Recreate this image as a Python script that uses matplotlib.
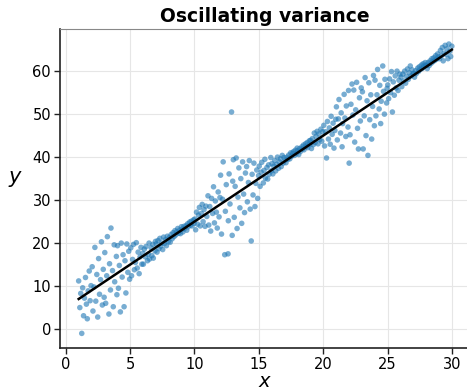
import matplotlib
matplotlib.use("Agg")
import matplotlib.pyplot as plt
import numpy as np

# scatter points, one block per unit of x
x_01 = [1.00, 1.09, 1.16, 1.24, 1.31, 1.38, 1.45, 1.53, 1.60, 1.67, 1.74, 1.82, 1.89, 1.96]
y_01 = [11.2, 5.0, 8.3, -1.0, 9.6, 3.1, 7.2, 12.0, 5.8, 2.4, 8.9, 13.5, 6.6, 10.1]
x_02 = [2.05, 2.11, 2.19, 2.26, 2.33, 2.41, 2.48, 2.55, 2.62, 2.70, 2.77, 2.84, 2.91, 2.98]
y_02 = [14.5, 4.2, 9.8, 19.0, 6.5, 12.7, 2.8, 16.4, 8.1, 11.5, 20.3, 5.6, 13.9, 7.4]
x_03 = [3.03, 3.10, 3.18, 3.23, 3.35, 3.40, 3.47, 3.51, 3.63, 3.69, 3.76, 3.80, 3.93, 3.97]
y_03 = [17.8, 6.0, 12.4, 21.5, 3.5, 15.2, 9.1, 23.5, 13.6, 5.2, 19.6, 11.0, 16.9, 8.0]
x_04 = [4.02, 4.09, 4.16, 4.24, 4.31, 4.38, 4.45, 4.53, 4.60, 4.67, 4.74, 4.82, 4.89, 4.96]
y_04 = [19.4, 9.5, 14.8, 4.0, 20.0, 12.1, 17.3, 5.2, 15.9, 8.4, 19.8, 13.2, 18.1, 11.6]
x_05 = [5.05, 5.11, 5.19, 5.26, 5.33, 5.41, 5.48, 5.55, 5.62, 5.70, 5.77, 5.84, 5.91, 5.98]
y_05 = [18.9, 12.4, 16.2, 19.7, 13.8, 15.5, 20.1, 14.2, 17.9, 12.9, 16.8, 19.0, 15.1, 17.6]
x_06 = [6.03, 6.10, 6.18, 6.23, 6.35, 6.40, 6.47, 6.51, 6.63, 6.69, 6.76, 6.80, 6.93, 6.97]
y_06 = [15.1, 18.6, 16.8, 19.2, 15.9, 17.4, 20.0, 16.3, 18.9, 17.1, 19.7, 16.5, 18.2, 20.4]
x_07 = [7.02, 7.09, 7.16, 7.24, 7.31, 7.38, 7.45, 7.53, 7.60, 7.67, 7.74, 7.82, 7.89, 7.96]
y_07 = [19.8, 17.9, 20.6, 18.7, 21.1, 19.3, 20.0, 18.5, 21.4, 19.9, 20.8, 19.4, 21.6, 20.3]
x_08 = [8.05, 8.11, 8.19, 8.26, 8.33, 8.41, 8.48, 8.55, 8.62, 8.70, 8.77, 8.84, 8.91, 8.98]
y_08 = [21.3, 20.2, 22.0, 21.0, 22.4, 21.5, 22.9, 21.9, 22.6, 23.4, 22.3, 23.0, 22.2, 23.8]
x_09 = [9.03, 9.10, 9.18, 9.23, 9.35, 9.40, 9.47, 9.51, 9.63, 9.69, 9.76, 9.80, 9.93, 9.97]
y_09 = [23.2, 22.6, 23.9, 23.4, 24.1, 23.0, 24.5, 23.8, 24.9, 24.2, 25.1, 24.0, 25.4, 24.6]
x_10 = [10.02, 10.09, 10.16, 10.24, 10.31, 10.38, 10.45, 10.53, 10.60, 10.67, 10.74, 10.82, 10.89, 10.96]
y_10 = [25.6, 23.1, 27.2, 24.4, 26.5, 28.3, 24.0, 26.9, 29.0, 25.0, 27.8, 23.9, 28.6, 26.2]
x_11 = [11.05, 11.11, 11.19, 11.26, 11.33, 11.41, 11.48, 11.55, 11.62, 11.70, 11.77, 11.84, 11.91, 11.98]
y_11 = [31.0, 24.2, 28.5, 22.8, 30.4, 26.9, 33.1, 24.7, 29.8, 27.2, 23.5, 31.9, 26.1, 30.6]
x_12 = [12.03, 12.10, 12.18, 12.23, 12.35, 12.40, 12.47, 12.61, 12.63, 12.69, 12.76, 12.88, 12.93, 12.97]
y_12 = [35.8, 22.1, 30.2, 38.9, 17.3, 27.4, 33.6, 17.5, 25.2, 36.1, 29.1, 50.5, 21.8, 34.4]
x_13 = [13.02, 13.09, 13.16, 13.24, 13.31, 13.38, 13.45, 13.53, 13.60, 13.67, 13.74, 13.82, 13.89, 13.96]
y_13 = [39.4, 26.0, 33.2, 39.8, 23.4, 30.7, 37.5, 28.2, 35.0, 24.6, 38.9, 31.4, 27.1, 36.3]
x_14 = [14.05, 14.11, 14.19, 14.26, 14.33, 14.41, 14.48, 14.55, 14.62, 14.70, 14.77, 14.84, 14.91, 14.98]
y_14 = [37.8, 29.6, 34.1, 39.2, 27.9, 20.5, 36.0, 31.2, 38.6, 28.5, 33.9, 37.0, 30.4, 35.7]
x_15 = [15.03, 15.10, 15.18, 15.23, 15.35, 15.40, 15.47, 15.51, 15.63, 15.69, 15.76, 15.80, 15.93, 15.97]
y_15 = [37.9, 33.2, 36.5, 38.8, 34.0, 36.9, 39.5, 35.1, 37.6, 34.9, 38.2, 36.0, 39.9, 36.8]
x_16 = [16.02, 16.09, 16.16, 16.24, 16.31, 16.38, 16.45, 16.53, 16.60, 16.67, 16.74, 16.82, 16.89, 16.96]
y_16 = [38.5, 36.1, 37.9, 39.2, 36.8, 38.3, 40.0, 37.4, 38.9, 39.6, 37.8, 40.4, 38.6, 39.9]
x_17 = [17.05, 17.11, 17.19, 17.26, 17.33, 17.41, 17.48, 17.55, 17.62, 17.70, 17.77, 17.84, 17.91, 17.98]
y_17 = [39.3, 38.7, 40.0, 39.5, 40.5, 39.6, 41.0, 40.2, 40.9, 41.3, 40.4, 41.6, 40.8, 42.1]
x_18 = [18.03, 18.10, 18.18, 18.23, 18.35, 18.40, 18.47, 18.51, 18.63, 18.69, 18.76, 18.80, 18.93, 18.97]
y_18 = [41.5, 40.6, 42.0, 41.3, 42.4, 41.9, 42.8, 41.7, 43.1, 42.5, 43.4, 42.2, 43.8, 43.0]
x_19 = [19.02, 19.09, 19.16, 19.24, 19.31, 19.38, 19.45, 19.53, 19.60, 19.67, 19.74, 19.82, 19.89, 19.96]
y_19 = [43.9, 42.0, 44.3, 42.9, 45.6, 43.4, 44.8, 46.0, 43.1, 45.4, 44.1, 46.5, 43.7, 45.9]
x_20 = [20.05, 20.11, 20.19, 20.26, 20.33, 20.41, 20.48, 20.55, 20.62, 20.70, 20.77, 20.84, 20.91, 20.98]
y_20 = [47.4, 42.6, 45.9, 39.8, 48.3, 44.2, 46.8, 43.0, 49.5, 45.3, 47.9, 42.1, 46.2, 48.8]
x_21 = [21.03, 21.10, 21.18, 21.23, 21.35, 21.40, 21.47, 21.51, 21.63, 21.69, 21.76, 21.80, 21.93, 21.97]
y_21 = [51.7, 44.0, 48.9, 53.4, 45.6, 50.3, 42.4, 47.8, 54.6, 49.1, 44.8, 51.9, 47.0, 55.5]
x_22 = [22.02, 22.09, 22.16, 22.24, 22.31, 22.38, 22.45, 22.53, 22.60, 22.67, 22.74, 22.82, 22.89, 22.96]
y_22 = [38.6, 45.2, 52.3, 57.0, 49.8, 55.6, 43.5, 51.0, 57.4, 46.7, 41.9, 53.8, 48.4, 56.1]
x_23 = [23.05, 23.11, 23.19, 23.26, 23.33, 23.41, 23.48, 23.55, 23.62, 23.70, 23.77, 23.84, 23.91, 23.98]
y_23 = [55.2, 41.9, 49.6, 58.5, 45.0, 53.1, 40.4, 57.3, 48.7, 54.5, 44.2, 51.8, 59.0, 47.3]
x_24 = [24.03, 24.10, 24.18, 24.23, 24.35, 24.40, 24.47, 24.51, 24.63, 24.69, 24.76, 24.80, 24.93, 24.97]
y_24 = [57.9, 49.6, 54.5, 60.4, 51.2, 56.7, 47.8, 53.0, 61.2, 55.3, 50.0, 58.1, 52.6, 56.0]
x_25 = [25.02, 25.09, 25.16, 25.24, 25.31, 25.38, 25.45, 25.53, 25.60, 25.67, 25.74, 25.82, 25.89, 25.96]
y_25 = [56.8, 53.6, 58.2, 55.0, 59.9, 50.5, 57.5, 54.4, 58.9, 56.1, 60.0, 55.5, 57.9, 59.3]
x_26 = [26.05, 26.11, 26.19, 26.26, 26.33, 26.41, 26.48, 26.55, 26.62, 26.70, 26.77, 26.84, 26.91, 26.98]
y_26 = [58.6, 56.4, 59.3, 57.7, 60.0, 57.2, 58.8, 60.5, 58.1, 59.6, 61.2, 58.9, 60.3, 59.4]
x_27 = [27.03, 27.10, 27.18, 27.23, 27.35, 27.40, 27.47, 27.51, 27.63, 27.69, 27.76, 27.80, 27.93, 27.97]
y_27 = [59.5, 58.6, 60.1, 59.4, 60.7, 59.9, 61.0, 60.3, 61.4, 60.6, 61.7, 61.1, 62.0, 61.3]
x_28 = [28.02, 28.09, 28.16, 28.24, 28.31, 28.38, 28.45, 28.53, 28.60, 28.67, 28.74, 28.82, 28.89, 28.96]
y_28 = [61.4, 60.6, 62.0, 61.3, 62.4, 61.8, 62.9, 62.2, 63.1, 62.5, 63.6, 62.8, 64.0, 63.3]
x_29 = [29.05, 29.11, 29.19, 29.26, 29.33, 29.41, 29.48, 29.55, 29.62, 29.70, 29.77, 29.84, 29.91, 30.00]
y_29 = [62.9, 64.8, 63.6, 65.5, 62.4, 64.2, 66.0, 63.9, 65.2, 62.9, 66.3, 64.6, 63.4, 65.8]

# fitted line end points
line_x = [1.0, 30.0]
line_y = [7.0, 65.0]

x_blocks = [x_01, x_02, x_03, x_04, x_05, x_06, x_07, x_08, x_09, x_10, x_11, x_12, x_13, x_14, x_15,
            x_16, x_17, x_18, x_19, x_20, x_21, x_22, x_23, x_24, x_25, x_26, x_27, x_28, x_29]
y_blocks = [y_01, y_02, y_03, y_04, y_05, y_06, y_07, y_08, y_09, y_10, y_11, y_12, y_13, y_14, y_15,
            y_16, y_17, y_18, y_19, y_20, y_21, y_22, y_23, y_24, y_25, y_26, y_27, y_28, y_29]
xs = np.concatenate(x_blocks)
ys = np.concatenate(y_blocks)

fig = plt.figure(figsize=(4.67, 3.90), dpi=100)
ax = fig.add_axes([0.1285, 0.1077, 0.879, 0.8179])

ax.scatter(xs, ys, s=16, color="#1f77b4", alpha=0.6, edgecolors="none", zorder=2)
ax.plot(line_x, line_y, color="black", lw=1.8, zorder=3)

ax.set_xlim(-0.45, 31.45)
ax.set_ylim(-4.4, 69.8)
ax.set_xticks([0, 5, 10, 15, 20, 25, 30])
ax.set_yticks([0, 10, 20, 30, 40, 50, 60])
ax.grid(True, color="#e6e6e6", lw=0.8, zorder=0)
ax.set_axisbelow(True)

for side in ["left", "bottom"]:
    ax.spines[side].set_color("#222222")
    ax.spines[side].set_linewidth(1.2)
for side in ["top", "right"]:
    ax.spines[side].set_color("#888888")
    ax.spines[side].set_linewidth(0.8)

ax.tick_params(axis="both", labelsize=10.5, length=4, width=1, color="#222222", pad=2.5)
ax.set_title("Oscillating variance", fontsize=13.5, fontweight="bold", pad=5)
ax.set_xlabel("$x$", fontsize=14, labelpad=0)
ax.set_ylabel("$y$", fontsize=15, rotation=0, labelpad=12)

fig.savefig("out.png", dpi=100)
